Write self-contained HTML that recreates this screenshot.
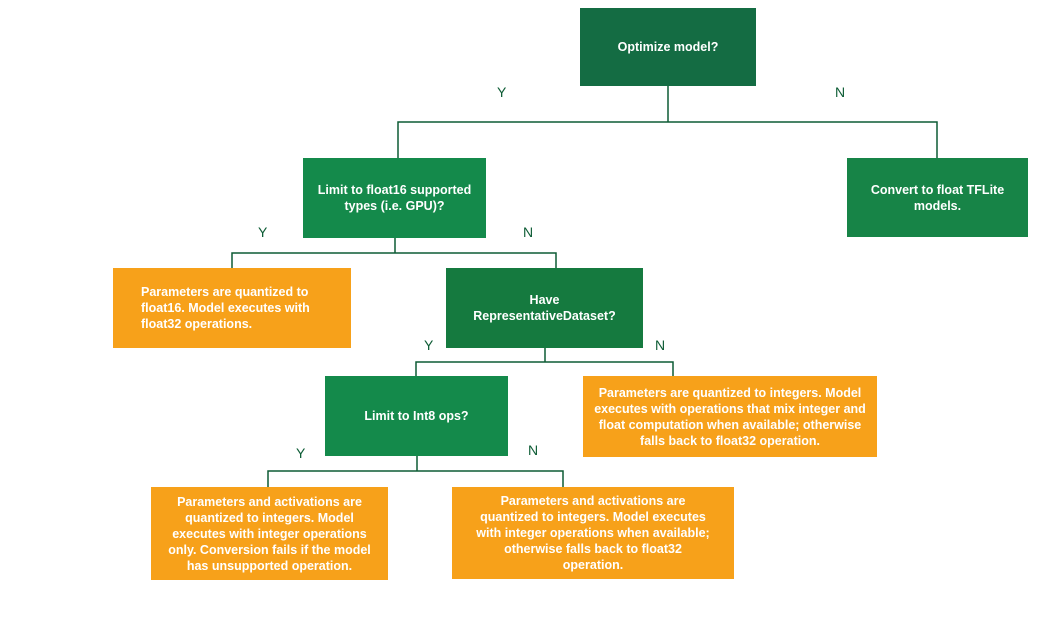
<!DOCTYPE html>
<html><head><style>
body{margin:0;width:1053px;height:640px;background:#fff;position:relative;font-family:"Liberation Sans",sans-serif;overflow:hidden}
.b{position:absolute;display:flex;align-items:center;justify-content:center;text-align:center;color:#fff;font-weight:bold;font-size:12.5px;line-height:16px;box-sizing:border-box;padding:0 8px}
.g{background:#148a4b}.o{background:#f7a11a}
.l{position:absolute;font-size:14px;color:#0d5c35}
</style></head><body>
<svg width="1053" height="640" style="position:absolute;left:0;top:0">
<g stroke="#0d5c35" stroke-width="1.5" fill="none">
<path d="M668 86V122M398 158V122H937V158"/>
<path d="M395 238V253M232 268V253H556V268"/>
<path d="M545 348V362M416 376V362H673V376"/>
<path d="M417 456V471M268 487V471H563V487"/>
</g></svg>
<div class="b" style="left:580px;top:8px;width:176px;height:78px;background:#146c43">Optimize model?</div>
<div class="b g" style="left:303px;top:158px;width:183px;height:80px">Limit to float16 supported<br>types (i.e. GPU)?</div>
<div class="b g" style="left:847px;top:158px;width:181px;height:79px;background:#178447">Convert to float TFLite<br>models.</div>
<div class="b o" style="left:113px;top:268px;width:238px;height:80px;text-align:left;justify-content:flex-start;padding-left:28px">Parameters are quantized to<br>float16. Model executes with<br>float32 operations.</div>
<div class="b g" style="left:446px;top:268px;width:197px;height:80px;background:#157a3f">Have<br>RepresentativeDataset?</div>
<div class="b g" style="left:325px;top:376px;width:183px;height:80px">Limit to Int8 ops?</div>
<div class="b o" style="left:583px;top:376px;width:294px;height:81px">Parameters are quantized to integers. Model<br>executes with operations that mix integer and<br>float computation when available; otherwise<br>falls back to float32 operation.</div>
<div class="b o" style="left:151px;top:487px;width:237px;height:93px">Parameters and activations are<br>quantized to integers. Model<br>executes with integer operations<br>only. Conversion fails if the model<br>has unsupported operation.</div>
<div class="b o" style="left:452px;top:487px;width:282px;height:92px">Parameters and activations are<br>quantized to integers. Model executes<br>with integer operations when available;<br>otherwise falls back to float32<br>operation.</div>
<div class="l" style="left:497px;top:84px">Y</div>
<div class="l" style="left:835px;top:84px">N</div>
<div class="l" style="left:258px;top:224px">Y</div>
<div class="l" style="left:523px;top:224px">N</div>
<div class="l" style="left:424px;top:337px">Y</div>
<div class="l" style="left:655px;top:337px">N</div>
<div class="l" style="left:296px;top:445px">Y</div>
<div class="l" style="left:528px;top:442px">N</div>
</body></html>
